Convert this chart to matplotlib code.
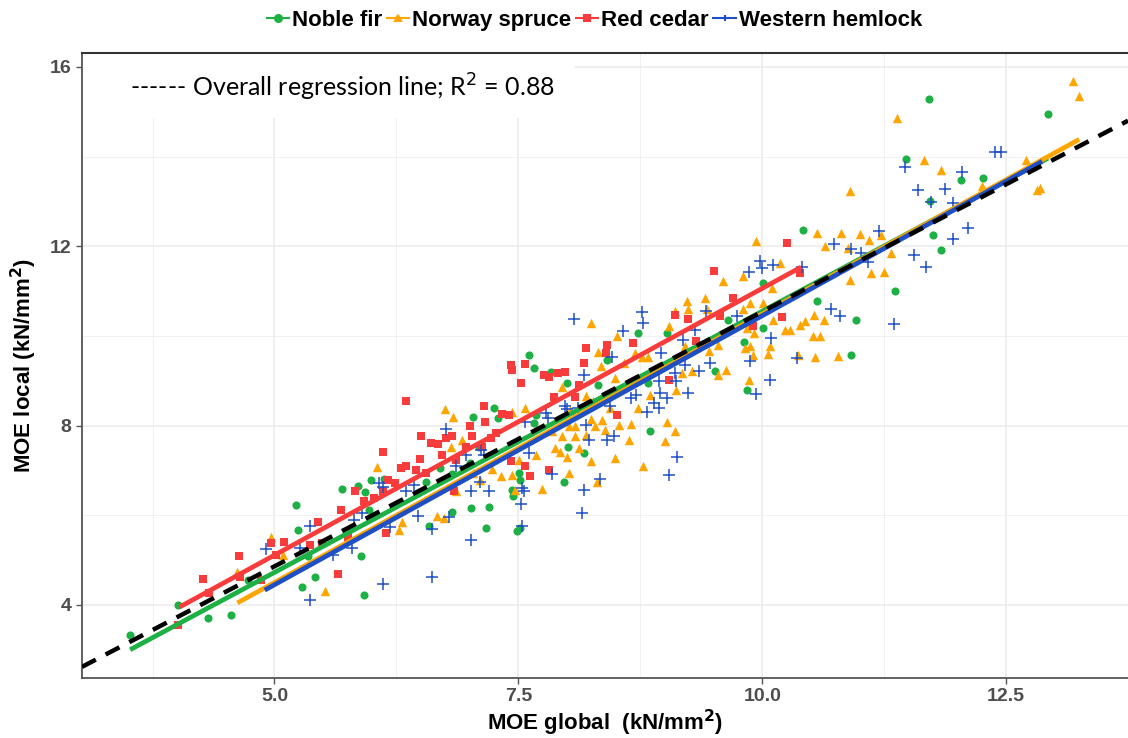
import matplotlib
matplotlib.use("Agg")
import numpy as np
import matplotlib.pyplot as plt
from matplotlib.lines import Line2D
from matplotlib.patches import Rectangle

# ---------- data: MOE global vs MOE local (kN/mm2) ----------
noble_x = [3.52, 4.01, 4.32, 4.55, 4.73, 5.22, 5.24, 5.28, 5.34, 5.42, 5.69,
           7.61, 7.66, 7.84, 8.00, 7.04, 7.25, 7.29, 7.10, 7.00, 6.82, 6.70, 6.55,
           6.12, 5.99, 5.86, 5.93, 5.97, 5.89, 5.92, 7.01, 7.20, 6.82, 6.58, 7.17,
           7.49, 7.52, 7.44, 7.45, 7.52, 7.51, 8.01, 8.17, 7.97, 8.32, 8.73, 7.66,
           7.68, 8.41,
           10.42, 10.01, 10.56, 9.65, 10.01, 9.81, 9.52, 9.84, 9.02, 8.83, 8.85,
           11.71, 12.93, 11.47, 12.26, 12.04, 11.72, 11.75, 11.83, 11.36, 10.96, 10.91]
noble_y = [3.33, 4.00, 3.70, 3.78, 4.56, 6.23, 5.67, 4.41, 5.08, 4.63, 6.58,
           9.58, 9.28, 9.19, 8.95, 8.20, 8.39, 8.17, 7.52, 7.16, 6.92, 7.05, 6.75,
           6.81, 6.79, 6.66, 6.51, 6.12, 5.08, 4.22, 6.16, 6.19, 6.08, 5.76, 5.71,
           5.64, 5.71, 6.57, 6.42, 6.79, 6.94, 7.53, 7.39, 6.75, 8.91, 10.06, 8.05,
           8.24, 9.47,
           12.37, 11.18, 10.77, 10.36, 10.18, 9.86, 9.21, 8.80, 10.06, 8.95, 7.87,
           15.29, 14.96, 13.95, 13.52, 13.47, 13.02, 12.26, 11.91, 11.01, 10.36, 9.58]

spruce_x = [4.62, 4.96, 5.09, 5.52,
            6.05, 6.75, 6.83, 6.81, 6.92, 6.28, 6.31, 6.67, 6.74, 7.32, 7.44, 7.23,
            7.44, 7.57, 7.47, 7.74, 7.51, 7.68, 7.93, 8.00, 8.02, 8.12, 7.95, 8.08,
            8.24, 8.31, 8.49, 8.63, 8.78, 8.66, 8.53, 8.39, 8.29, 8.24, 8.36, 8.44,
            8.73, 8.27, 8.19, 7.95, 8.25, 8.51, 8.32, 8.35, 8.49, 8.58, 8.77, 8.70,
            8.08, 8.02, 6.86, 7.04, 7.11, 7.85, 7.88, 8.19, 8.03,
            9.94, 10.18, 9.60, 9.80, 9.23, 9.41, 9.24, 9.43, 9.11, 9.04, 9.80, 9.87,
            10.01, 10.10, 10.11, 9.92, 9.84, 10.23, 10.28, 10.39, 10.44, 10.53, 10.63,
            10.52, 10.59, 10.37, 10.54, 10.78, 10.08, 10.06, 9.87, 9.91, 9.82, 9.86,
            9.55, 9.45, 9.63, 9.55, 9.18, 9.28, 9.21, 8.83, 9.12, 8.85, 9.02, 9.11,
            9.00, 10.56, 10.81, 10.64,
            13.19, 13.25, 11.38, 11.66, 11.83, 10.90, 12.25, 12.70, 12.82, 12.85,
            11.00, 11.09, 11.22, 11.32, 11.12, 11.25, 10.90, 10.88]
spruce_y = [4.74, 5.52, 5.11, 4.30,
            7.07, 8.37, 8.20, 7.53, 7.68, 5.67, 5.86, 5.99, 5.93, 6.87, 6.90, 7.03,
            8.30, 8.39, 6.57, 6.58, 7.24, 7.35, 7.42, 7.31, 6.94, 7.50, 7.76, 7.76,
            7.20, 6.75, 7.27, 7.68, 7.10, 8.04, 8.02, 7.91, 7.98, 8.14, 8.13, 8.39,
            8.39, 8.54, 8.65, 8.86, 10.29, 9.99, 9.63, 9.32, 9.06, 9.39, 9.54, 9.62,
            7.98, 7.98, 6.53, 6.94, 6.79, 7.87, 7.50, 7.79, 8.35,
            12.11, 11.63, 11.22, 11.33, 10.77, 10.85, 10.59, 10.59, 10.55, 10.21, 10.59, 10.73,
            10.73, 11.07, 10.36, 10.06, 10.18, 10.14, 10.14, 10.25, 10.33, 10.47, 10.35,
            10.00, 10.00, 9.58, 9.53, 9.56, 9.77, 9.60, 9.77, 9.58, 9.73, 9.02,
            9.80, 9.66, 9.25, 9.13, 9.17, 9.21, 9.77, 9.54, 8.80, 8.69, 8.09, 7.87,
            7.65, 12.30, 12.30, 12.00,
            15.68, 15.35, 14.86, 13.92, 13.69, 13.23, 13.34, 13.93, 13.26, 13.30,
            12.28, 12.15, 12.24, 11.84, 11.40, 11.42, 11.25, 11.96]

cedar_x = [4.01, 4.27, 4.33, 4.64, 4.65, 4.86, 4.96, 5.02, 5.10, 5.36, 5.45, 5.49,
           5.65, 5.68, 5.75,
           6.35, 6.11, 5.83, 6.50, 6.60, 6.68, 6.76, 6.82, 7.00, 7.15, 7.16, 7.03,
           6.96, 6.72, 6.86, 6.49, 6.35, 6.45, 6.55, 6.24, 6.11, 6.02, 5.92, 6.14,
           7.42, 7.44, 7.57, 7.53, 7.76, 7.81, 7.91, 7.98, 8.19, 8.17, 8.41, 8.40,
           8.68, 8.51, 8.12, 7.87, 8.08, 7.81, 7.62, 7.57, 7.42, 7.33, 7.40, 7.27,
           7.22, 6.84, 6.16, 6.30, 7.13,
           10.25, 9.51, 9.11, 9.24, 9.70, 9.57, 9.91, 10.20, 10.39, 9.04, 9.32]
cedar_y = [3.55, 4.57, 4.26, 5.09, 4.63, 4.56, 5.39, 5.11, 5.41, 5.34, 5.86, 5.38,
           4.69, 6.12, 5.52,
           8.55, 7.40, 6.55, 7.76, 7.61, 7.59, 7.72, 7.76, 7.99, 8.43, 8.09, 7.76,
           7.53, 7.35, 7.24, 7.25, 7.09, 7.01, 6.94, 6.73, 6.55, 6.38, 6.31, 5.60,
           9.36, 9.25, 9.37, 8.96, 9.13, 9.08, 9.17, 9.19, 9.74, 9.39, 9.80, 9.62,
           9.84, 8.24, 8.91, 8.63, 8.63, 7.01, 6.87, 7.09, 7.20, 8.26, 8.24, 7.83,
           7.72, 6.53, 6.79, 7.05, 7.53,
           12.07, 11.44, 10.47, 10.38, 10.85, 10.45, 10.21, 10.42, 11.40, 9.02, 9.88]

hemlock_x = [4.91, 5.36, 5.36, 5.26, 5.60, 5.90,
             8.07, 8.77, 8.78, 8.57, 8.46, 8.17, 7.98, 8.00, 7.78, 7.80, 7.57, 8.11,
             8.19, 8.22, 8.41, 8.48, 8.65, 8.71, 8.82, 6.76, 7.12, 7.15, 6.96, 6.86,
             7.61, 7.85, 8.34, 8.17, 8.15, 7.54, 7.56, 7.53, 7.54, 7.20, 7.11, 7.01,
             6.79, 6.61, 6.47, 6.43, 6.18, 6.11, 6.07, 5.82, 5.80, 7.01, 6.62, 6.11,
             6.35, 8.44,
             9.98, 10.00, 10.11, 9.86, 10.41, 10.74, 10.71, 10.80, 10.36, 9.88, 10.08,
             9.94, 10.09, 9.74, 9.42, 9.31, 9.19, 8.96, 9.21, 9.35, 9.46, 9.11, 9.12,
             8.94, 9.24, 8.95, 9.02, 8.89, 8.94, 9.13, 9.04,
             12.39, 12.45, 11.46, 12.05, 11.60, 11.87, 11.73, 11.96, 11.20, 12.11,
             11.96, 11.56, 11.68, 10.91, 11.01, 11.08, 11.35]
hemlock_y = [5.24, 5.76, 4.11, 5.27, 5.11, 6.05,
             10.38, 10.53, 10.29, 10.12, 9.54, 9.13, 8.44, 8.37, 8.28, 8.17, 8.09, 8.39,
             8.02, 7.68, 7.68, 7.76, 8.61, 8.69, 8.31, 7.92, 7.46, 7.35, 7.35, 7.09,
             7.38, 6.92, 6.80, 6.57, 6.06, 6.60, 6.53, 6.25, 5.75, 6.55, 6.75, 6.53,
             5.96, 5.69, 5.99, 6.68, 5.73, 6.64, 6.72, 5.90, 5.27, 5.44, 4.63, 4.47,
             6.53, 8.43,
             11.66, 11.52, 11.59, 11.42, 11.54, 12.04, 10.59, 10.45, 9.51, 9.43, 9.01,
             8.71, 9.95, 10.44, 10.55, 10.14, 9.91, 9.62, 9.36, 9.21, 9.39, 9.17, 8.99,
             8.99, 8.73, 8.73, 8.61, 8.50, 8.39, 7.31, 6.90,
             14.10, 14.10, 13.77, 13.65, 13.26, 13.28, 12.98, 12.96, 12.33, 12.41,
             12.16, 11.81, 11.54, 11.94, 11.86, 11.64, 10.27]

# fitted lines per species: (slope, intercept, x from, x to)
species = ["Noble fir", "Norway spruce", "Red cedar", "Western hemlock"]
fit_slope = [1.165, 1.198, 1.19, 1.20]
fit_icpt = [-1.10, -1.49, -0.84, -1.55]
fit_from = [3.52, 4.62, 4.03, 4.90]
fit_to = [12.93, 13.25, 10.40, 12.87]

overall_slope = 1.136
overall_icpt = -0.82
overall_r2 = 0.88

colors = ["#1DB044", "#FFA500", "#F83B3B", "#1E4FC4"]
markers = ["o", "^", "s", "+"]
sizes = [34, 46, 30, 70]

xs = [noble_x, spruce_x, cedar_x, hemlock_x]
ys = [noble_y, spruce_y, cedar_y, hemlock_y]

# ---------- figure ----------
fig = plt.figure(figsize=(11.28, 7.38), dpi=100)
ax = fig.add_axes([82 / 1128, 1 - 678 / 738, 1 - 82 / 1128, (678 - 53) / 738])

ax.set_xlim(3.027, 13.72)
ax.set_ylim(2.37, 16.31)
ax.set_xticks([5.0, 7.5, 10.0, 12.5])
ax.set_xticks([3.75, 6.25, 8.75, 11.25, 13.75], minor=True)
ax.set_yticks([4, 8, 12, 16])
ax.set_yticks([6, 10, 14], minor=True)
ax.grid(True, which="major", color="#EBEBEB", lw=1.1, zorder=0)
ax.grid(True, which="minor", color="#F0F0F0", lw=0.7, zorder=0)
ax.set_axisbelow(True)

for i in range(4):
    if markers[i] == "+":
        ax.scatter(xs[i], ys[i], s=sizes[i], marker=markers[i], color=colors[i],
                   linewidths=1.1, zorder=3)
    else:
        ax.scatter(xs[i], ys[i], s=sizes[i], marker=markers[i], color=colors[i],
                   linewidths=0, zorder=3)

for i in range(4):
    lx = np.array([fit_from[i], fit_to[i]])
    ax.plot(lx, fit_slope[i] * lx + fit_icpt[i], color=colors[i], lw=3.4,
            solid_capstyle="butt", zorder=4)

ox = np.array(ax.get_xlim())
ax.plot(ox, overall_slope * ox + overall_icpt, color="black", lw=3.2,
        dashes=(3.5, 2.5), zorder=5)

# white box holding the overall regression note
ax.add_patch(Rectangle((0.0, 0.896), 0.471, 0.104, transform=ax.transAxes,
                       facecolor="white", edgecolor="none", zorder=1.5))
ax.text(0.046, 0.945, "------ Overall regression line; R$^2$ = %.2f" % overall_r2,
        transform=ax.transAxes, fontsize=18, family="Lato", va="center",
        ha="left", zorder=6)

for side in ["left", "bottom"]:
    ax.spines[side].set_color("#555555")
    ax.spines[side].set_linewidth(1.3)
ax.spines["top"].set_color("#333333")
ax.spines["top"].set_linewidth(1.5)
ax.spines["right"].set_visible(False)

ax.tick_params(which="major", length=4, color="#555555", width=1,
               labelsize=14, labelcolor="#4D4D4D")
ax.tick_params(which="minor", length=0)
ax.set_xticklabels(["5.0", "7.5", "10.0", "12.5"])
ax.set_yticklabels(["4", "8", "12", "16"])
for lab in ax.get_xticklabels() + ax.get_yticklabels():
    lab.set_fontweight("bold")
    lab.set_family("Liberation Sans")

ax.set_xlabel("MOE global  (kN/mm$^\\mathbf{2}$)", fontsize=16, fontweight="bold",
              family="Liberation Sans", labelpad=2)
ax.set_ylabel("MOE local (kN/mm$^\\mathbf{2}$)", fontsize=16, fontweight="bold",
              family="Liberation Sans", labelpad=8)

handles = [Line2D([0], [0], color=colors[i], marker=markers[i], lw=1.5,
                  markersize=5, markeredgewidth=1.5) for i in range(4)]
fig.legend(handles, species, loc="center", bbox_to_anchor=(0.527, 0.972),
           ncol=4, frameon=False, handlelength=1.0, handletextpad=0.15,
           columnspacing=0.2, prop={"family": "Liberation Sans",
                                    "weight": "bold", "size": 16})

fig.savefig("out.png", dpi=100)
